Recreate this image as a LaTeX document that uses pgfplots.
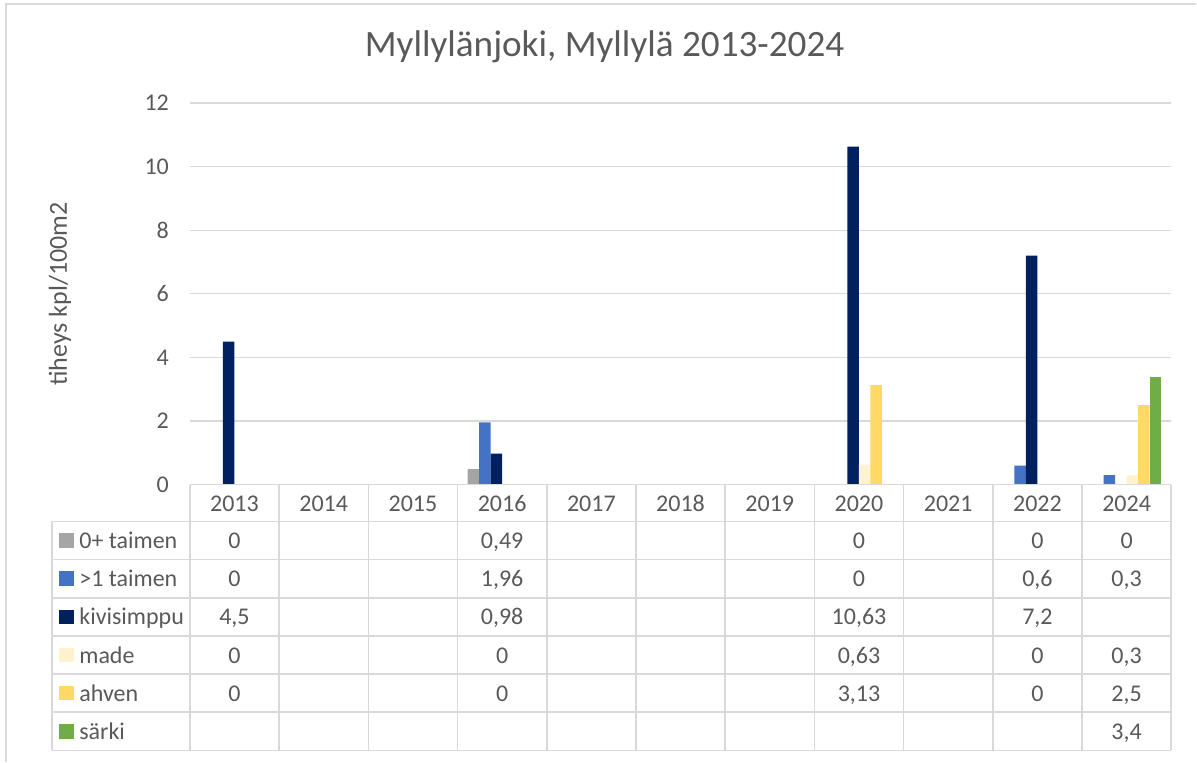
\documentclass[border=0pt]{standalone}
\usepackage{pgfplots}
\pgfplotsset{compat=1.18}
\usepackage{fontspec}
\setmainfont{Carlito}
\definecolor{txt}{HTML}{595959}
\definecolor{gridc}{HTML}{D9D9D9}
\definecolor{cA}{HTML}{A5A5A5}
\definecolor{cB}{HTML}{4472C4}
\definecolor{cC}{HTML}{002060}
\definecolor{cD}{HTML}{FFF2CC}
\definecolor{cE}{HTML}{FFD966}
\definecolor{cF}{HTML}{70AD47}
\begin{document}
\begin{tikzpicture}
% axis: category i centre at x = i*44.636pt, y=0 at 0pt
\begin{axis}[
  anchor=south west, at={(-22.318pt,0pt)},
  x=44.636pt, y=15.917pt,
  xmin=-0.5, xmax=10.5, ymin=0, ymax=12,
  ybar=0pt, bar width=5.75pt,
  axis line style={draw=none},
  xtick=\empty,
  ytick={0,2,...,12},
  major tick length=0pt,
  ymajorgrids, grid style={gridc, line width=0.6pt},
  yticklabel style={font=\fontsize{12}{14}\selectfont, text=txt, xshift=-7pt},
  /pgf/number format/assume math mode=true,
  clip=false,
]
\addplot[fill=cA, draw=none] coordinates {(0,0) (3,0.49) (7,0) (9,0) (10,0)};
\addplot[fill=cB, draw=none] coordinates {(0,0) (3,1.96) (7,0) (9,0.6) (10,0.3)};
\addplot[fill=cC, draw=none] coordinates {(0,4.5) (3,0.98) (7,10.63) (9,7.2)};
\addplot[fill=cD, draw=none] coordinates {(0,0) (3,0) (7,0.63) (9,0) (10,0.3)};
\addplot[fill=cE, draw=none] coordinates {(0,0) (3,0) (7,3.13) (9,0) (10,2.5)};
\addplot[fill=cF, draw=none] coordinates {(10,3.4)};
\end{axis}
\begin{scope}[xshift=-117.32pt, yshift=242.5pt]
\begin{scope}[x=0.5pt, y=-0.5pt]
  \tikzset{tc/.style={text=txt, font=\fontsize{12}{14}\selectfont, text height=1.6ex, text depth=0.4ex, inner sep=0pt, yshift=-1.2pt}}
  % frame
  \draw[gridc, line width=0.8pt] (6,762) -- (6,4) -- (1197,4);
  % title
  \node[text=txt, font=\fontsize{18.6}{21}\selectfont] at (605,47) {Myllylänjoki, Myllylä 2013-2024};
  % y label
  \node[text=txt, rotate=90, font=\fontsize{13}{15}\selectfont] at (60,294) {tiheys kpl/100m2};
  % table grid
  \begin{scope}[gridc, line width=0.8pt]
    \draw (190,485) -- (1172,485);
    \foreach \k in {0,...,6} \draw (52,{521.7+38.2*\k}) -- (1172,{521.7+38.2*\k});
    \foreach \i in {0,...,11} \draw ({190+89.273*\i},485) -- ({190+89.273*\i},750.9);
    \draw (52,521.7) -- (52,750.9);
  \end{scope}
  % header years
  \foreach \y [count=\i from 0] in {2013,2014,2015,2016,2017,2018,2019,2020,2021,2022,2024}
    \node[tc] at ({234.64+89.273*\i},503.5) {\y};
  % legend keys and names
  \foreach \c/\n [count=\k from 0] in {cA/0+ taimen,cB/>1 taimen,cC/kivisimppu,cD/made,cE/ahven,cF/särki}{
    \fill[\c] (59.5,{540.8+38.2*\k-7.3}) rectangle (74,{540.8+38.2*\k+7.3});
    \node[tc, anchor=west] at (79,{540.8+38.2*\k}) {\n};
  }
  % table values
  \def\cell#1#2#3{\node[tc] at ({234.64+89.273*#1},{540.8+38.2*#2}) {#3};}
  \cell{0}{0}{0}\cell{0}{1}{0}\cell{0}{2}{4,5}\cell{0}{3}{0}\cell{0}{4}{0}
  \cell{3}{0}{0,49}\cell{3}{1}{1,96}\cell{3}{2}{0,98}\cell{3}{3}{0}\cell{3}{4}{0}
  \cell{7}{0}{0}\cell{7}{1}{0}\cell{7}{2}{10,63}\cell{7}{3}{0,63}\cell{7}{4}{3,13}
  \cell{9}{0}{0}\cell{9}{1}{0,6}\cell{9}{2}{7,2}\cell{9}{3}{0}\cell{9}{4}{0}
  \cell{10}{0}{0}\cell{10}{1}{0,3}\cell{10}{3}{0,3}\cell{10}{4}{2,5}\cell{10}{5}{3,4}
  % bounding box
  \path[use as bounding box] (0,0) rectangle (1197,762);
\end{scope}
\end{scope}
\end{tikzpicture}
\end{document}
